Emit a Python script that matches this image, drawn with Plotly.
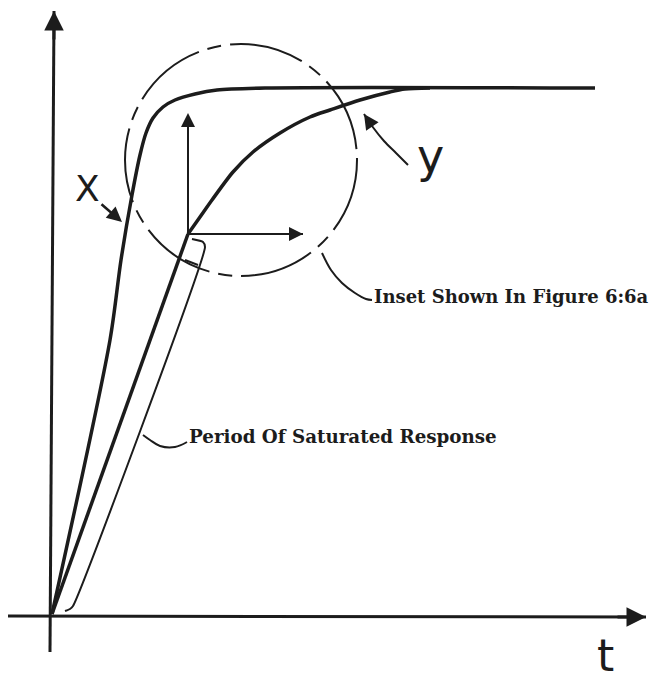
import plotly.graph_objects as go

# ---- data (diagram units: t to the right, response upward; origin at axes crossing) ----
x_t = [2, 60, 71, 82, 90, 96, 103, 113, 125, 145, 167, 215, 545]
x_v = [2, 276, 356, 421, 461, 483, 498, 509, 516, 522, 526, 528, 528]

y_t = [2, 100, 138]
y_v = [2, 276, 382]
y2_t = [138, 150, 162, 183, 203, 230, 260, 280, 310, 340, 355, 380]
y2_v = [382, 399, 416, 444, 464, 483, 499, 506, 516, 524, 527, 528]

sat_t = [15, 20, 23, 155, 153, 142]
sat_v = [5, 7, 10, 369, 374, 377]
bar_t = [135, 148]
bar_v = [356, 351]

inset_origin = (138, 382)
inset_up = (138, 503)
inset_right = (253, 382)

circle_center = (191, 456)
circle_r = 116

axis_v_t = [0, 4]
axis_v_v = [-36, 605]
axis_h_t = [-42, 596]
axis_h_v = [0, -1]

yl_t = [358, 346, 334, 322, 314]
yl_v = [451, 463, 475, 490, 502]
inset_l_t = [272, 281, 292, 305, 316, 322]
inset_l_v = [363, 346, 333, 323, 317, 316]
per_l_t = [93, 100, 110, 125, 137]
per_l_v = [181, 176, 170, 169, 174]

labels = {
    "X": (37, 428),
    "y": (380, 460),
    "t": (555, -67),
}
inset_text = "Inset Shown In Figure 6:6a"
period_text = "Period Of Saturated Response"
inset_text_pos = (322, 320)
period_text_pos = (137, 180)

INK = "#1c1c1c"

fig = go.Figure()

def line(tx, vy, w, shape="linear", smooth=0.0):
    kw = dict(x=tx, y=vy, mode="lines", hoverinfo="skip", showlegend=False,
              line=dict(color=INK, width=w, shape=shape))
    if shape == "spline":
        kw["line"]["smoothing"] = smooth
    fig.add_trace(go.Scatter(**kw))

# axes
line(axis_v_t, axis_v_v, 3)
line(axis_h_t, axis_h_v, 3)
# curves
line(x_t, x_v, 3.5, "spline", 0.8)
line(y_t, y_v, 3.5)
line(y2_t, y2_v, 3.5, "spline", 0.8)
# saturated bracket
line(sat_t, sat_v, 2, "spline", 0.5)
line(bar_t, bar_v, 2)
# leaders
line(yl_t, yl_v, 2, "spline", 1.0)
line(inset_l_t, inset_l_v, 2, "spline", 1.0)
line(per_l_t, per_l_v, 2, "spline", 1.0)
# inset axes
line([inset_origin[0], inset_up[0]], [inset_origin[1], inset_up[1] - 8], 2)
line([inset_origin[0], inset_right[0]], [inset_origin[1], inset_right[1]], 2)

def arrow(x, y, ax, ay, w=2, size=1.2, head=2):
    fig.add_annotation(x=x, y=y, ax=ax, ay=ay, xref="x", yref="y", axref="x", ayref="y",
                       text="", showarrow=True, arrowhead=head, arrowsize=size,
                       arrowwidth=w, arrowcolor=INK)

arrow(axis_v_t[1], axis_v_v[1], axis_v_t[1], axis_v_v[1] - 30, w=3, size=1.3)
arrow(axis_h_t[1], axis_h_v[1], axis_h_t[1] - 30, axis_h_v[1], w=3, size=1.3)
arrow(inset_up[0], inset_up[1], inset_up[0], inset_up[1] - 20, w=2, size=1.4)
arrow(inset_right[0], inset_right[1], inset_right[0] - 20, inset_right[1], w=2, size=1.4)
arrow(72, 394, 50, 413, w=2.5, size=1.2)
arrow(yl_t[-1], yl_v[-1], yl_t[-2], yl_v[-2], w=2.5, size=1.2)

# dashed inset circle
cx, cy = circle_center
fig.add_shape(type="circle", xref="x", yref="y",
              x0=cx - circle_r, x1=cx + circle_r, y0=cy - circle_r, y1=cy + circle_r,
              line=dict(color=INK, width=2, dash="75px,9px,14px,9px"))

# labels
fig.add_annotation(x=labels["X"][0], y=labels["X"][1], text="X", showarrow=False,
                   font=dict(family="DejaVu Sans", size=36, color=INK))
fig.add_annotation(x=labels["y"][0], y=labels["y"][1], text="y", showarrow=False,
                   font=dict(family="DejaVu Sans", size=46, color=INK))
fig.add_annotation(x=labels["t"][0], y=labels["t"][1], text="t", showarrow=False,
                   yanchor="bottom",
                   font=dict(family="DejaVu Sans", size=44, color=INK))
fig.add_annotation(x=inset_text_pos[0], y=inset_text_pos[1], text="<b>" + inset_text + "</b>",
                   showarrow=False, xanchor="left",
                   font=dict(family="DejaVu Serif", size=18, color=INK))
fig.add_annotation(x=period_text_pos[0], y=period_text_pos[1], text="<b>" + period_text + "</b>",
                   showarrow=False, xanchor="left",
                   font=dict(family="DejaVu Serif", size=18.3, color=INK))

fig.update_layout(
    width=655, height=684,
    margin=dict(l=0, r=0, t=0, b=0),
    paper_bgcolor="white", plot_bgcolor="white",
    xaxis=dict(range=[-50, 605], visible=False, fixedrange=True),
    yaxis=dict(range=[-68, 616], visible=False, fixedrange=True),
)

fig.write_html(
    "out.html",
    config={"displayModeBar": False, "displaylogo": False},
    post_script="document.body.style.margin='0';document.body.style.overflow='hidden';",
)
